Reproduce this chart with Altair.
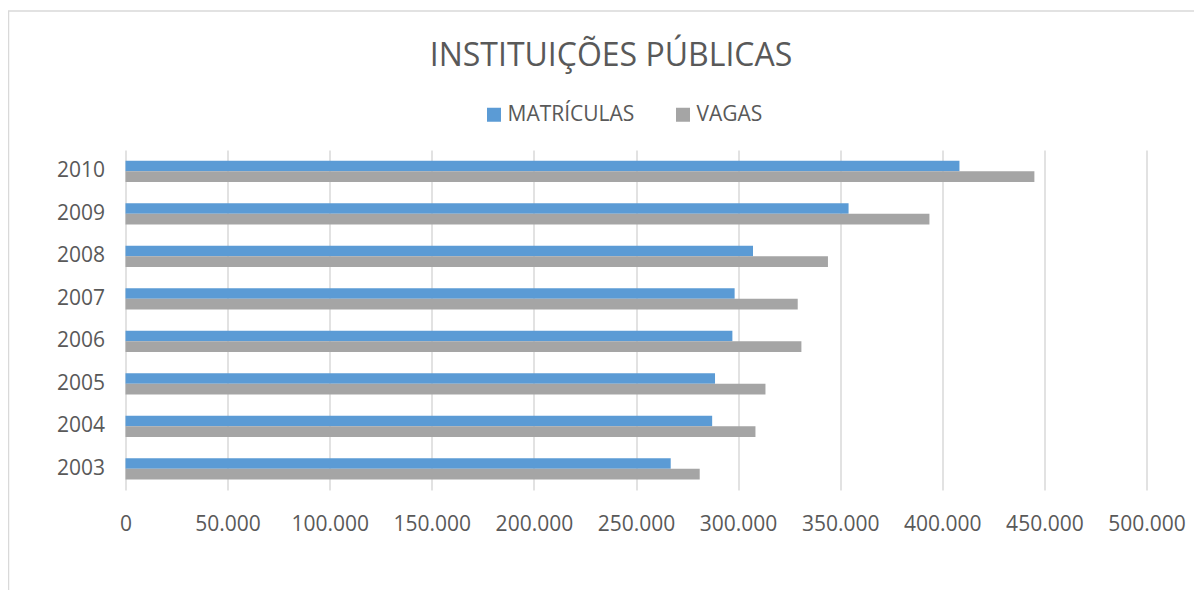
import altair as alt
import pandas as pd

years = ["2003", "2004", "2005", "2006", "2007", "2008", "2009", "2010"]
matriculas = [267000, 287300, 288700, 297200, 298300, 307300, 354100, 408400]
vagas = [281200, 308500, 313400, 331000, 329200, 344000, 393700, 445100]
series = ["MATRÍCULAS", "VAGAS"]
colors = ["#5b9bd5", "#a5a5a5"]
x_ticks = [0, 50000, 100000, 150000, 200000, 250000, 300000, 350000, 400000, 450000, 500000]

rows = []
for i, y in enumerate(years):
    rows.append({"ano": y, "serie": series[0], "valor": matriculas[i], "ord": 0})
    rows.append({"ano": y, "serie": series[1], "valor": vagas[i], "ord": 1})
df = pd.DataFrame(rows)

FONT = "Open Sans"
TXT = "#595959"
FS = 21

bars = alt.Chart(df).mark_bar(strokeWidth=0).encode(
    y=alt.Y("ano:N", sort=list(reversed(years)),
            scale=alt.Scale(paddingInner=0.5, paddingOuter=0.25),
            axis=alt.Axis(title=None, ticks=False, domain=False, labelFont=FONT,
                          labelFontSize=FS, labelColor=TXT, labelPadding=21,
                          grid=False)),
    yOffset=alt.YOffset("serie:N", sort=series,
                        scale=alt.Scale(paddingInner=0, paddingOuter=0)),
    x=alt.X("valor:Q", scale=alt.Scale(domain=[0, 500000], nice=False),
            axis=alt.Axis(title=None, values=x_ticks, ticks=False, domain=False,
                          grid=True, gridColor="#d9d9d9", gridWidth=1.5,
                          labelFont=FONT, labelFontSize=FS, labelColor=TXT,
                          labelPadding=23, labelBaseline="top", labelOverlap=False,
                          labelFlush=False,
                          labelExpr="replace(format(datum.value, ','), ',', '.')")),
    color=alt.Color("serie:N", sort=series,
                    scale=alt.Scale(domain=series, range=colors),
                    legend=alt.Legend(title=None, orient="none", direction="horizontal",
                                      legendX=358, legendY=-46,
                                      symbolType="square", symbolSize=196,
                                      symbolStrokeWidth=0, labelFont=FONT,
                                      labelFontSize=FS, labelColor=TXT,
                                      labelOffset=3, columnPadding=38)),
)

frame = alt.Chart(pd.DataFrame({"a": [0]})).mark_rect(
    fill=None, stroke="#d9d9d9", strokeWidth=1.5
).encode(
    x=alt.value(-117), x2=alt.value(1200),
    y=alt.value(-139), y2=alt.value(600),
)

chart = alt.layer(frame, bars).properties(
    width=1021, height=340,
    padding={"left": 117.5, "top": 142, "right": 47, "bottom": 100},
    autosize=alt.AutoSizeParams(type="none"),
    title=alt.TitleParams("INSTITUIÇÕES PÚBLICAS", font=FONT, fontSize=32,
                          fontWeight="normal", color=TXT, anchor="middle",
                          frame="group", baseline="alphabetic", offset=-88, dx=-25),
).configure_view(stroke=None)

chart.save("out.html", embed_options={"renderer": "svg", "actions": False})
